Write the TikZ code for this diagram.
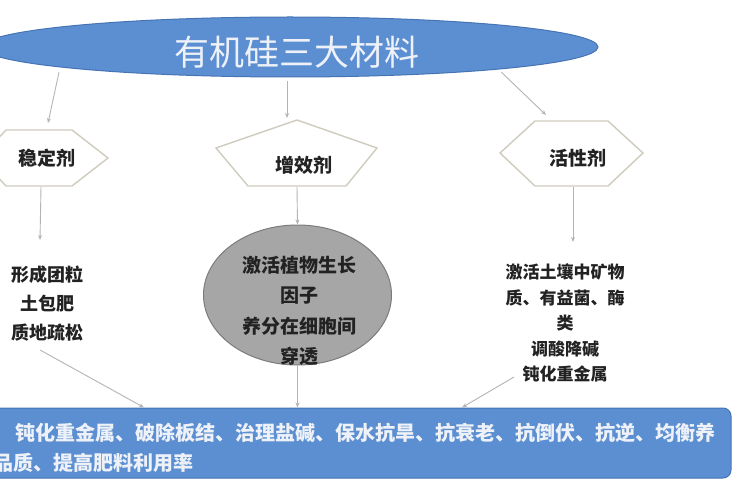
\documentclass[tikz,border=0pt]{standalone}
\usepackage{fontspec}
\setmainfont{Noto Sans CJK SC}
\usetikzlibrary{shapes.geometric,arrows.meta,calc}
\definecolor{blueF}{HTML}{5C8FD2}
\definecolor{blueD}{HTML}{4673B4}
\definecolor{grayF}{HTML}{A6A6A6}
\definecolor{grayD}{HTML}{7C7C7C}
\definecolor{shapeD}{HTML}{CFCBBE}
\definecolor{arrC}{HTML}{B4B4B4}
\definecolor{txtD}{HTML}{222222}
\definecolor{txtW}{HTML}{EEF2F8}
\tikzset{
  arr/.style={draw=arrC, line width=0.9pt, -{Stealth[length=5pt,width=4pt]}},
  shp/.style={draw=shapeD, line width=1.4pt, fill=white, line join=miter},
  lbl/.style={font=\fontsize{19}{22}\selectfont\bfseries, text=txtD, inner sep=0pt},
  body/.style={font=\fontsize{18}{29}\selectfont\bfseries, text=txtD, align=center, inner sep=0pt},
}
\begin{document}
\begin{tikzpicture}[x=1pt,y=-1pt]
\useasboundingbox (0,0) rectangle (750,500);
\clip (0,0) rectangle (750,500);
\fill[white] (0,0) rectangle (750,500);
% title ellipse
\node[ellipse, draw=blueD, fill=blueF, line width=1pt, minimum width=616pt, minimum height=60pt, inner sep=0pt] (title) at (290,47) {};
\node[font=\fontsize{35}{40}\selectfont, text=txtW, inner sep=0pt] (titletxt) at (297,52) {有机硅三大材料};
% shapes
\draw[shp] (6,130) -- (72,130) -- (108,158) -- (72,186) -- (6,186) -- (-20,158) -- cycle;
\node[lbl] (wd) at (47,158) {稳定剂};
\coordinate (wdt) at (48,123);
\coordinate (wdb) at (41,187);
\draw[shp] (297,120) -- (377,148) -- (346,186) -- (248,186) -- (216,148) -- cycle;
\node[lbl] (zx) at (304,165) {增效剂};
\coordinate (zxt) at (287,118);
\coordinate (zxb) at (297,187);
\draw[shp] (500,153) -- (535,121) -- (608,121) -- (643,153) -- (608,186) -- (535,186) -- cycle;
\node[lbl] (hx) at (578,158) {活性剂};
\coordinate (hxt) at (546,115);
\coordinate (hxb) at (573,187);
% left text
\node[body] (lt) at (48,304) {形成团粒\\土包肥\\质地疏松};
\coordinate (lts) at (40,350);
% circle
\node[ellipse, draw=grayD, fill=grayF, line width=1pt, minimum width=188pt, minimum height=140pt, inner sep=0pt] (circ) at (297.5,295) {};
\node[body, font=\fontsize{19}{30.5}\selectfont\bfseries] (ct) at (299,311) {激活植物生长\\因子\\养分在细胞间\\穿透};
% right text
\node[body, font=\fontsize{17}{25.5}\selectfont\bfseries] (rt) at (565,323) {激活土壤中矿物\\质、有益菌、酶\\类\\调酸降碱\\钝化重金属};
\coordinate (rts) at (514,377);
% bottom bar
\node[draw=blueD, fill=blueF, line width=1pt, rounded corners=8pt, minimum width=745pt, minimum height=70pt, inner sep=0pt] (bar) at (358.5,443) {};
\node[anchor=west, font=\fontsize{20}{24}\selectfont\bfseries, text=txtW, inner sep=0pt] (b1) at (15,433) {钝化重金属、破除板结、治理盐碱、保水抗旱、抗衰老、抗倒伏、抗逆、均衡养};
\node[anchor=west, font=\fontsize{20}{24}\selectfont\bfseries, text=txtW, inner sep=0pt] (b2) at (-7,463) {品质、提高肥料利用率};
% arrows
\draw[arr] (title.185.4) ++(0,5) -- (wdt);
\draw[arr] (title.south) ++(-3,4) -- (zxt);
\draw[arr] (title.354.3) ++(0,3) -- (hxt);
\draw[arr] (wdb) -- (40,240);
\draw[arr] (zxb) -- (circ.north);
\draw[arr] (hxb) -- (573,242);
\draw[arr] (lts) -- (bar.north -| 144,0);
\draw[arr] (circ.south) -- (bar.north -| circ.south);
\draw[arr] (rts) -- (bar.north -| 462,0);
\end{tikzpicture}
\end{document}
